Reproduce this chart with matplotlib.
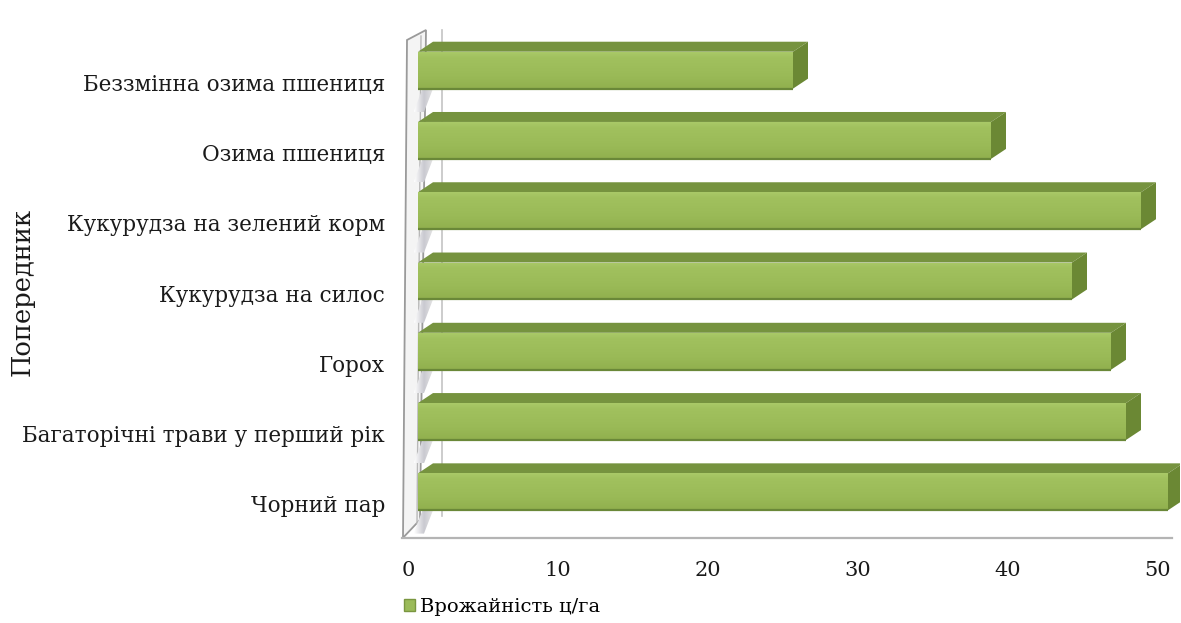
import matplotlib
matplotlib.use('Agg')
import matplotlib.pyplot as plt
import numpy as np
from matplotlib.patches import Polygon, Patch, Rectangle
from matplotlib.colors import LinearSegmentedColormap
from matplotlib.transforms import ScaledTranslation

categories = ["Беззмінна озима пшениця", "Озима пшениця", "Кукурудза на зелений корм",
              "Кукурудза на силос", "Горох", "Багаторічні трави у перший рік", "Чорний пар"]
values = [25.0, 38.2, 48.2, 43.6, 46.2, 47.2, 50.0]
xticks = [0, 10, 20, 30, 40, 50]
series_name = "Врожайність ц/га"
axis_title = "Попередник"

W, H = 1181, 623
plt.rcParams['font.family'] = ['DejaVu Serif']
fig = plt.figure(figsize=(W / 100, H / 100), dpi=100)
ax = fig.add_axes([403 / W, (H - 553) / H, 777 / W, 520 / H])
ax.set_xlim(-1.0, 50.8)
ax.set_ylim(-0.7, 6.7)

n = len(categories)
pos = [n - 1 - i for i in range(n)]

TOPC = '#76933f'
SIDE = '#6b8834'
EDGE = '#6a8838'
front_cmap = LinearSegmentedColormap.from_list(
    'front', [(0.0, '#91b04e'), (0.35, '#9aba57'), (0.85, '#a1c15e'), (1.0, '#a9c968')])
shade_cmap = LinearSegmentedColormap.from_list(
    'shade', [(0.0, '#ffffff'), (0.5, '#c9c9d0'), (1.0, '#e6e6e6')])

h = 0.526
off = 0.171
ddx, ddy = 1.0, 0.142


def px2d(xp, yp):
    return ((xp - 418) / 15.0, (504 - yp) / 70.3)


# back vertical line visible in gaps
x1, y1 = px2d(442, 516)
x2, y2 = px2d(442, 30)
ax.plot([x1, x2], [y1, y2], color='#c4c4c4', lw=1.2, zorder=1, clip_on=False)

# wall slab
wall = [px2d(403, 538), px2d(407, 40), px2d(426, 30), px2d(420, 520)]
ax.add_patch(Polygon(wall, closed=True, facecolor='#f4f4f4', edgecolor='#9a9a9a',
                     lw=1.3, zorder=1, clip_on=False))
xa, ya = px2d(417, 524)
xb, yb = px2d(421, 36)
ax.plot([xa, xb], [ya, yb], color='#b8b8b8', lw=1.0, zorder=1, clip_on=False)

# floor front line
fa = px2d(402, 538)
fb = px2d(1172, 538)
ax.plot([fa[0], fb[0]], [fa[1], fb[1]], color='#b4b4b4', lw=1.6, zorder=1, clip_on=False)

# gap shading near wall
grad_h = np.linspace(0, 1, 64).reshape(1, -1)
for p in pos:
    yb_ = p + off - h / 2
    g_lo = yb_ - (1 - h - ddy)
    poly = Polygon([(-0.3, g_lo), (0.4, g_lo), (1.0, yb_), (0.3, yb_)], closed=True,
                   facecolor='none', edgecolor='none')
    ax.add_patch(poly)
    im = ax.imshow(grad_h, cmap=shade_cmap, extent=(-0.3, 1.0, g_lo, yb_), aspect='auto',
                   zorder=1.5, interpolation='bilinear')
    im.set_clip_path(poly)

# bars: front face with vertical gradient
grad_v = np.linspace(0, 1, 64).reshape(-1, 1)
fc = [p + off for p in pos]
bars = ax.barh(fc, values, height=h, left=0, color='#9dbd5a', edgecolor='none', zorder=3)
for b, c, v in zip(bars, fc, values):
    yt = c + h / 2
    yb2 = c - h / 2
    im = ax.imshow(grad_v, cmap=front_cmap, origin='lower', extent=(0, v, yb2, yt),
                   aspect='auto', zorder=3.05, interpolation='bilinear')
    im.set_clip_path(b)
    ax.plot([0, v], [yb2, yb2], color=EDGE, lw=1.6, zorder=3.2, solid_capstyle='butt')
    ax.add_patch(Polygon([(0, yt), (v, yt), (v + ddx, yt + ddy), (ddx, yt + ddy)], closed=True,
                         facecolor=TOPC, edgecolor='none', zorder=3))
    ax.add_patch(Polygon([(v, yb2), (v + ddx, yb2 + ddy), (v + ddx, yt + ddy), (v, yt)],
                         closed=True, facecolor=SIDE, edgecolor='none', zorder=3))

ax.set_xlim(-1.0, 50.8)
ax.set_ylim(-0.7, 6.7)
for s in ax.spines.values():
    s.set_visible(False)
ax.set_facecolor('none')

ax.set_yticks(pos)
ax.set_yticklabels(categories, fontsize=15.5, color='#1a1a1a')
ax.tick_params(axis='y', length=0, pad=13)

ax.set_xticks(xticks)
ax.set_xticklabels([str(t) for t in xticks], fontsize=15, color='#1a1a1a')
ax.tick_params(axis='x', length=0, pad=6)
for lab in ax.get_xticklabels():
    lab.set_transform(lab.get_transform() + ScaledTranslation(-0.1, 0, fig.dpi_scale_trans))

fig.text(22 / W, (H - 292) / H, axis_title, rotation=90, ha='center', va='center',
         fontsize=18.5, color='#1a1a1a')

fig.legend(handles=[Patch(facecolor='#9BBB59', edgecolor='#7a9640')], labels=[series_name],
           loc='center left', bbox_to_anchor=(404 / W, (H - 607) / H), frameon=False,
           handlelength=0.55, handleheight=0.55, handletextpad=0.25, fontsize=14,
           borderpad=0, borderaxespad=0)

fig.savefig('out.png', dpi=100)
